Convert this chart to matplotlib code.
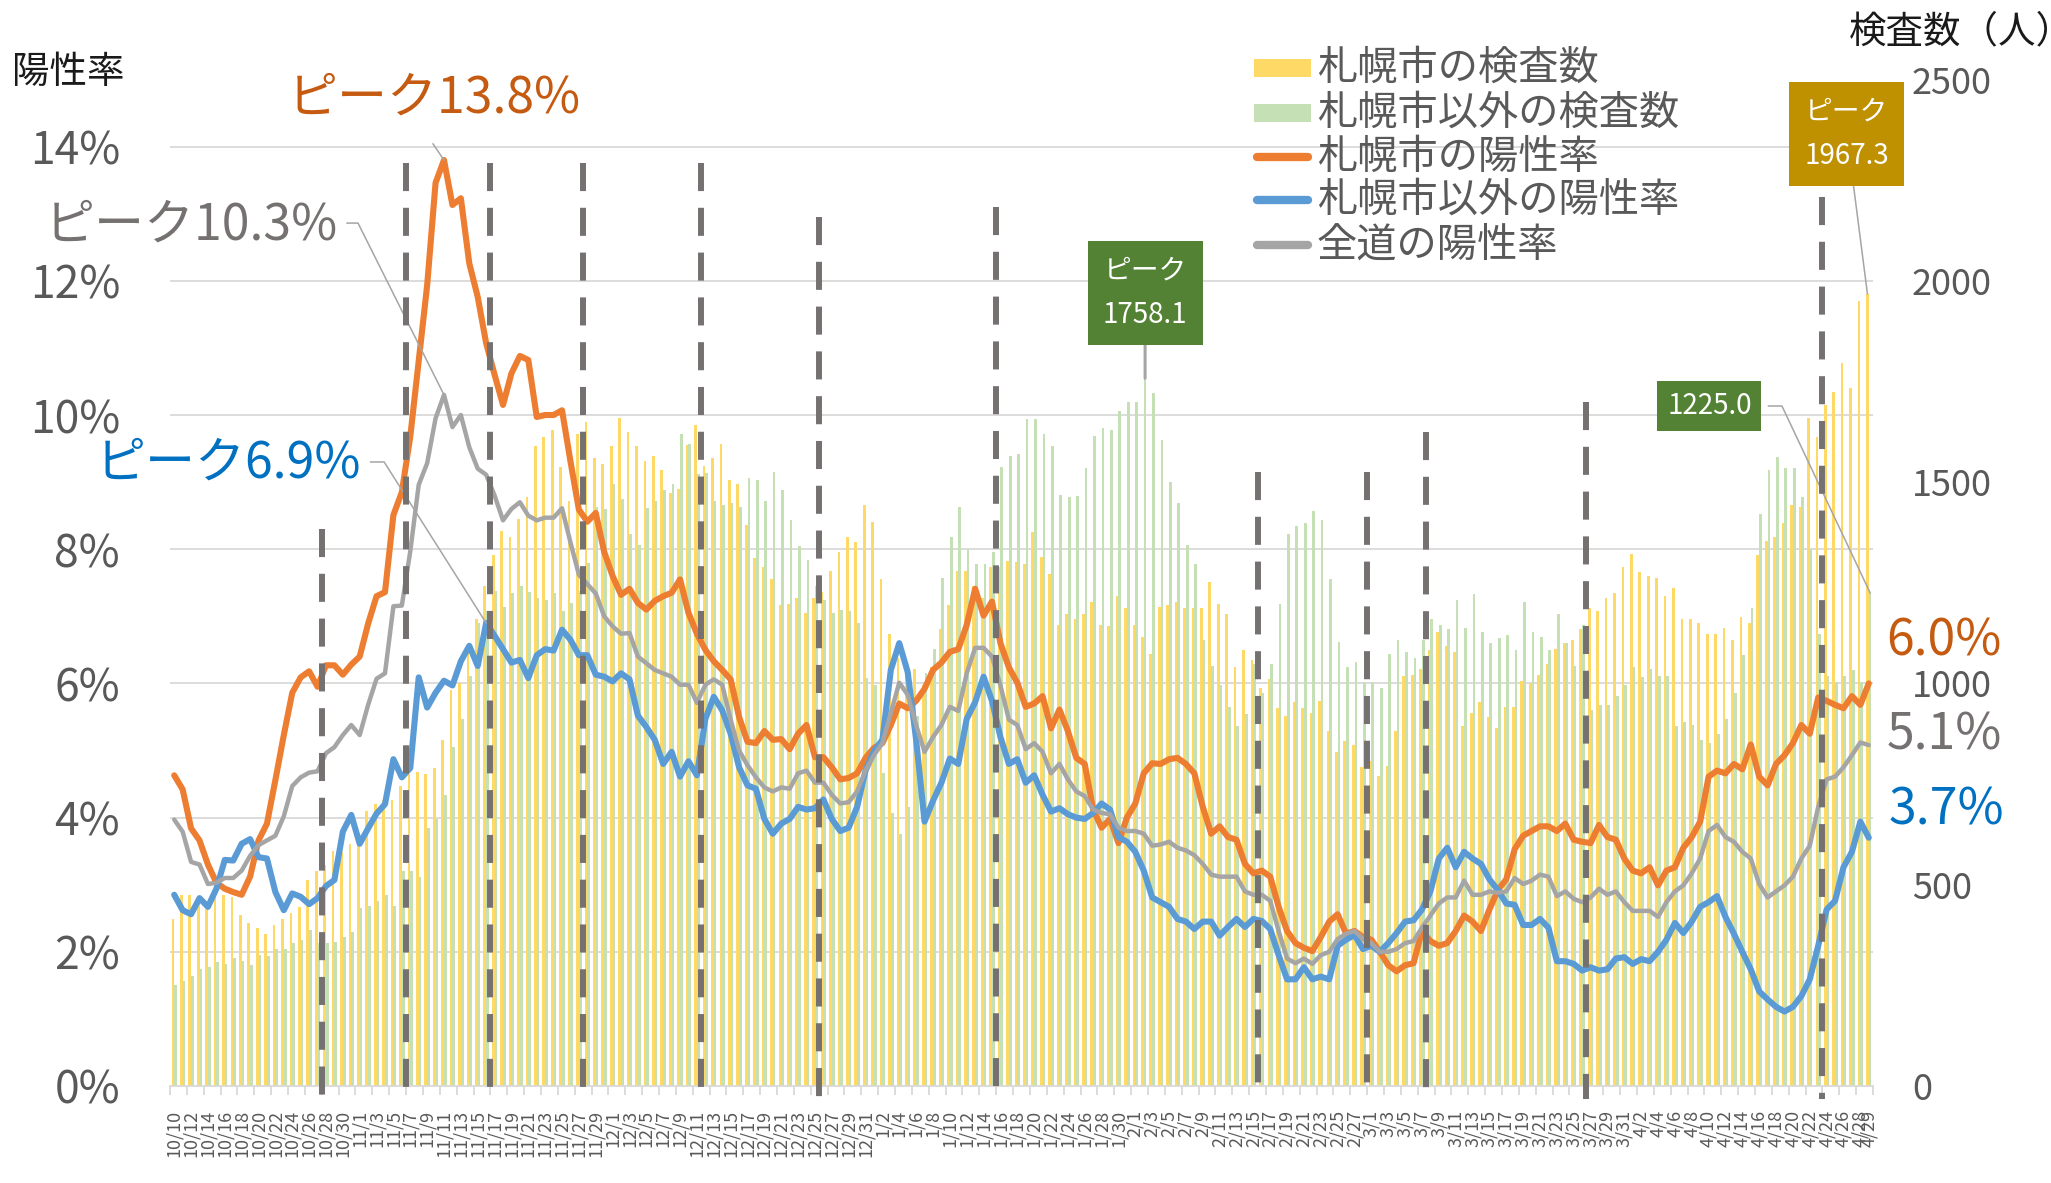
import numpy as np
import pandas as pd
import matplotlib
matplotlib.use('Agg')
from matplotlib import pyplot as plt
from matplotlib.patches import Rectangle
from matplotlib.lines import Line2D

plt.rcParams['font.family'] = ['Noto Sans CJK JP', 'DejaVu Sans']

dates = pd.date_range('2020-10-10', '2021-04-29', freq='D')
date_labels = ['{}/{}'.format(d.month, d.day) for d in dates]

# 札幌市の検査数
sapporo_tests = [
    415, 475, 475, 470, 440, 485, 475, 470, 425, 405, 392, 377, 400, 415, 430, 445, 512,
    535, 550, 583, 580, 602, 610, 682, 700, 710, 710, 745, 775, 779, 775, 789, 860, 984,
    1000, 1080, 1161, 1243, 1319, 1379, 1364, 1409, 1462, 1590, 1612, 1630, 1537, 1454,
    1620, 1650, 1560, 1545, 1590, 1660, 1624, 1590, 1552, 1564, 1530, 1474, 1484, 1593,
    1642, 1540, 1560, 1594, 1504, 1495,
    1394, 1311, 1289, 1259, 1194, 1198, 1213, 1176, 1213, 1228, 1278, 1326, 1364, 1352,
    1442, 1402, 1259, 1123, 1063, 1025, 1037, 995, 1040, 1134, 1194, 1278, 1278, 1243,
    1213, 1289, 1289, 1304, 1301, 1296,
    1376, 1314, 1271, 1146, 1173, 1161, 1173, 1201, 1146, 1143, 1218, 1188, 1146, 1115,
    1073, 1191, 1195, 1201, 1188, 1188, 1188, 1251, 1198, 1173, 1040, 1082, 1058, 988,
    1010, 938, 920, 953, 939,
    927, 957, 882, 829, 857, 848, 792, 807, 769, 796, 882, 1018, 1022, 1037, 1082, 1127,
    1093, 1078, 893, 927, 953, 917, 890, 942, 942, 1007, 1000, 1022, 1048, 1085, 1100,
    1108, 1134,
    1188, 1179, 1213, 1224, 1289, 1322, 1277, 1266, 1262, 1216, 1236, 1161, 1161, 1150,
    1123, 1123, 1138, 1108, 1164, 1150, 1319, 1353, 1364, 1399, 1442, 1439, 1660, 1612,
    1691, 1725, 1796, 1733, 1951, 1967.3]

# 札幌市以外の検査数
other_tests = [
    250, 261, 273, 291, 295, 307, 303, 318, 310, 300, 325, 322, 340, 340, 355, 363, 388,
    355, 355, 358, 370, 382, 442, 448, 460, 475, 448, 535, 535, 520, 640, 662, 722, 842,
    912, 1018, 1150, 1180, 1230, 1191, 1224, 1243, 1228, 1213, 1206, 1224, 1179, 1200,
    1230, 1300, 1439, 1432, 1496, 1459, 1371, 1344, 1435, 1454, 1480, 1495, 1620, 1594,
    1519, 1522, 1454, 1442, 1447, 1439,
    1510, 1504, 1454, 1525, 1481, 1405, 1341, 1307, 1243, 1206, 1176, 1183, 1179, 1150,
    1013, 995, 777, 679, 626, 694, 920, 1025, 1085, 1263, 1364, 1439, 1334, 1296, 1296,
    1326, 1537, 1564, 1570, 1657,
    1657, 1620, 1590, 1469, 1462, 1466, 1534, 1615, 1635, 1630, 1676, 1700, 1700, 1758.1,
    1721, 1605, 1500, 1447, 1344, 1296, 1108, 1043, 995, 942, 893, 923, 1048, 977, 1048,
    1198, 1371, 1391, 1399,
    1429, 1405, 1259, 1103, 1040, 1052, 1003, 1003, 988, 1073, 1108, 1078, 1063, 1108,
    1161, 1146, 1134, 1206, 1138, 1221, 1128, 1100, 1113, 1119, 1082, 1203, 1128, 1116,
    1082, 1173, 1100, 1043, 1146,
    935, 947, 947, 968, 995, 1040, 1015, 1037, 1018, 1018, 893, 905, 897, 860, 852, 875,
    912, 977, 1070, 1188, 1421, 1530, 1563, 1534, 1534, 1462, 1334, 1123, 1018, 1003,
    1018, 1033, 1003, 1225.0]

# 札幌市の陽性率 (%)
sapporo_rate = [
    4.63, 4.42, 3.84, 3.66, 3.30, 3.03, 2.94, 2.89, 2.85, 3.12, 3.66, 3.91, 4.56, 5.23,
    5.86, 6.09, 6.18, 5.95, 6.27, 6.27, 6.13, 6.28, 6.40, 6.89, 7.30, 7.36, 8.51, 8.85,
    9.68, 10.80, 11.93, 13.46, 13.80, 13.13,
    13.23, 12.26, 11.76, 11.07, 10.60, 10.15, 10.62, 10.88, 10.82, 9.97, 10.00, 10.00,
    10.07, 9.31, 8.59, 8.41, 8.54, 7.96, 7.60, 7.32, 7.41, 7.20, 7.10, 7.23, 7.30, 7.35,
    7.55, 7.05, 6.74, 6.50, 6.33, 6.20, 6.06, 5.50,
    5.13, 5.11, 5.29, 5.16, 5.17, 5.02, 5.25, 5.38, 4.90, 4.90, 4.75, 4.57, 4.59, 4.66,
    4.89, 5.04, 5.11, 5.38, 5.70, 5.63, 5.74, 5.92, 6.20, 6.31, 6.47, 6.51, 6.87, 7.41,
    7.01, 7.22, 6.60, 6.24, 6.01, 5.65,
    5.70, 5.81, 5.33, 5.61, 5.29, 4.89, 4.80, 4.12, 3.85, 3.98, 3.62, 4.00, 4.21, 4.66,
    4.81, 4.80, 4.87, 4.89, 4.80, 4.66, 4.16, 3.76, 3.87, 3.71, 3.67, 3.31, 3.17, 3.21,
    3.12, 2.67, 2.31, 2.13, 2.06,
    2.01, 2.22, 2.45, 2.56, 2.27, 2.31, 2.22, 2.18, 2.00, 1.80, 1.71, 1.80, 1.83, 2.31,
    2.16, 2.09, 2.13, 2.31, 2.54, 2.45, 2.31, 2.63, 2.92, 3.08, 3.53, 3.73, 3.80, 3.87,
    3.87, 3.80, 3.91, 3.67, 3.64,
    3.62, 3.89, 3.71, 3.67, 3.39, 3.21, 3.17, 3.26, 2.99, 3.21, 3.26, 3.55, 3.71, 3.94,
    4.61, 4.70, 4.66, 4.80, 4.72, 5.09, 4.61, 4.48, 4.80, 4.93, 5.11, 5.38, 5.25, 5.79,
    5.74, 5.68, 5.63, 5.81, 5.68, 6.00]

# 札幌市以外の陽性率 (%)
other_rate = [
    2.85, 2.62, 2.56, 2.80, 2.67, 2.94, 3.37, 3.36, 3.61, 3.68, 3.41, 3.39, 2.89, 2.62,
    2.87, 2.82, 2.71, 2.80, 2.98, 3.07, 3.79, 4.04, 3.61, 3.84, 4.06, 4.20, 4.87, 4.60,
    4.74, 6.09, 5.64, 5.86, 6.04, 5.97,
    6.33, 6.56, 6.26, 6.90, 6.71, 6.51, 6.31, 6.35, 6.08, 6.42, 6.51, 6.49, 6.80, 6.65,
    6.42, 6.42, 6.13, 6.10, 6.03, 6.15, 6.06, 5.52, 5.35, 5.16, 4.80, 4.98, 4.61, 4.84,
    4.63, 5.47, 5.80, 5.60, 5.25, 4.75,
    4.48, 4.43, 3.98, 3.76, 3.91, 3.98, 4.16, 4.12, 4.14, 4.27, 3.98, 3.80, 3.85, 4.16,
    4.70, 4.99, 5.16, 6.20, 6.60, 6.17, 5.16, 3.94, 4.25, 4.52, 4.88, 4.80, 5.47, 5.72,
    6.10, 5.74, 5.20, 4.80, 4.87, 4.52,
    4.63, 4.34, 4.09, 4.14, 4.05, 4.00, 3.98, 4.07, 4.21, 4.12, 3.71, 3.64, 3.49, 3.21,
    2.81, 2.74, 2.67, 2.49, 2.45, 2.34, 2.45, 2.45, 2.24, 2.37, 2.49, 2.37, 2.49, 2.46,
    2.34, 1.95, 1.59, 1.59, 1.77,
    1.59, 1.63, 1.59, 2.09, 2.18, 2.25, 2.04, 2.09, 2.00, 2.13, 2.28, 2.45, 2.47, 2.63,
    2.90, 3.39, 3.55, 3.26, 3.49, 3.39, 3.31, 3.08, 2.92, 2.72, 2.70, 2.40, 2.40, 2.49,
    2.36, 1.86, 1.86, 1.82, 1.72,
    1.77, 1.72, 1.74, 1.90, 1.92, 1.82, 1.89, 1.86, 2.00, 2.18, 2.43, 2.28, 2.45, 2.67,
    2.74, 2.83, 2.52, 2.27, 2.00, 1.74, 1.41, 1.29, 1.18, 1.11, 1.18, 1.34, 1.59, 2.09,
    2.63, 2.76, 3.26, 3.49, 3.94, 3.70]

# 全道の陽性率 (%)
all_rate = [
    3.97, 3.79, 3.34, 3.30, 3.01, 3.03, 3.10, 3.10, 3.21, 3.43, 3.59, 3.66, 3.73, 4.02,
    4.47, 4.60, 4.67, 4.69, 4.96, 5.05, 5.23, 5.38, 5.23, 5.68, 6.07, 6.15, 7.15, 7.16,
    7.97, 8.96, 9.28, 9.95, 10.30, 9.82,
    10.00, 9.52, 9.20, 9.11, 8.80, 8.43, 8.60, 8.70, 8.50, 8.43, 8.47, 8.47, 8.61, 8.10,
    7.62, 7.48, 7.34, 7.00, 6.85, 6.74, 6.75, 6.40, 6.30, 6.20, 6.15, 6.10, 5.98, 5.98,
    5.71, 5.98, 6.06, 5.98, 5.46, 5.00,
    4.78, 4.60, 4.45, 4.39, 4.45, 4.43, 4.66, 4.70, 4.52, 4.52, 4.34, 4.21, 4.23, 4.39,
    4.70, 4.93, 5.11, 5.56, 6.01, 5.83, 5.38, 4.98, 5.20, 5.38, 5.65, 5.59, 6.15, 6.53,
    6.53, 6.40, 5.97, 5.46, 5.38, 5.02,
    5.11, 4.98, 4.66, 4.80, 4.57, 4.39, 4.32, 4.12, 4.07, 4.05, 3.85, 3.80, 3.80, 3.76,
    3.58, 3.60, 3.64, 3.55, 3.51, 3.44, 3.31, 3.15, 3.12, 3.12, 3.12, 2.90, 2.85, 2.85,
    2.76, 2.31, 1.90, 1.83, 1.90,
    1.82, 1.95, 2.00, 2.19, 2.27, 2.31, 2.19, 2.13, 2.00, 2.00, 2.04, 2.13, 2.16, 2.36,
    2.54, 2.72, 2.81, 2.81, 3.06, 2.85, 2.85, 2.90, 2.88, 2.90, 3.10, 3.01, 3.06, 3.15,
    3.12, 2.83, 2.90, 2.79, 2.74,
    2.81, 2.94, 2.85, 2.90, 2.74, 2.61, 2.61, 2.61, 2.52, 2.74, 2.90, 2.99, 3.17, 3.39,
    3.80, 3.89, 3.71, 3.64, 3.49, 3.39, 3.01, 2.81, 2.90, 2.99, 3.12, 3.39, 3.58, 4.16,
    4.57, 4.61, 4.75, 4.93, 5.12, 5.08]

# dashed marker lines: drawn after these day indices, up to these heights (%)
event_days = [17, 27, 37, 48, 62, 76, 97, 128, 141, 148, 167, 195]
event_tops = [8.3, 13.75, 13.75, 13.75, 13.75, 12.95, 13.1, 9.15, 9.15, 9.75, 10.2, 13.25]

legend_labels = ['札幌市の検査数', '札幌市以外の検査数', '札幌市の陽性率',
                 '札幌市以外の陽性率', '全道の陽性率']

YELLOW = '#FFD966'
GREEN = '#C5E0B4'
ORANGE = '#ED7D31'
BLUE = '#5B9BD5'
GRAY = '#A5A5A5'
DASH = '#767171'
GRID = '#D9D9D9'
TICK = '#595959'
ORANGE_TXT = '#C55A11'
BLUE_TXT = '#0070C0'
GRAY_TXT = '#767171'
BOX_GREEN = '#548235'
BOX_GOLD = '#BF9000'

W, H = 2051, 1183
PCT_MAX, CNT_MAX = 15, 2500


def fx(px):
    return px / W


def fy(py):
    return 1 - py / H


fig = plt.figure(figsize=(W / 100, H / 100), dpi=100)
ax = fig.add_axes([fx(170), fy(1086), (1873 - 170) / W, (1086 - 79.5) / H])
ax2 = ax.twinx()
ax.set_zorder(ax2.get_zorder() + 1)
ax.patch.set_visible(False)

x = np.arange(len(dates))
bw = 0.32

# bars on the right axis
ax2.bar(x - bw / 2, sapporo_tests, bw, color=YELLOW, linewidth=0, zorder=2)
ax2.bar(x + bw / 2, other_tests, bw, color=GREEN, linewidth=0, zorder=2)
ax2.set_ylim(0, CNT_MAX)
ax2.set_yticks(range(0, CNT_MAX + 1, 500))
ax2.tick_params(axis='y', length=0, pad=28, labelsize=26, labelcolor=TICK)

pct_ticks = list(range(0, 15, 2))
for p in pct_ticks[1:]:
    ax2.axhline(p / PCT_MAX * CNT_MAX, color=GRID, lw=1.3, zorder=0)

# lines on the left axis
ax.plot(x, sapporo_rate, color=ORANGE, lw=4.4, solid_joinstyle='round',
        solid_capstyle='round', zorder=3)
ax.plot(x, other_rate, color=BLUE, lw=4.4, solid_joinstyle='round',
        solid_capstyle='round', zorder=3)
ax.plot(x, all_rate, color=GRAY, lw=3.2, solid_joinstyle='round',
        solid_capstyle='round', zorder=3)
ax.set_ylim(0, PCT_MAX)
ax.set_xlim(-0.5, len(dates) - 0.5)
ax.set_yticks(pct_ticks)
ax.set_yticklabels(['{}%'.format(p) for p in pct_ticks])
ax.tick_params(axis='y', length=0, pad=36, labelsize=32, labelcolor=TICK)

label_pos = list(range(0, len(dates), 2)) + [len(dates) - 1]
ax.set_xticks(label_pos)
ax.set_xticklabels([date_labels[i] for i in label_pos], rotation=90)
ax.set_xticks(np.arange(-0.5, len(dates), 2), minor=True)
ax.tick_params(axis='x', which='major', length=0, pad=17, labelsize=13,
               labelcolor=TICK)
ax.tick_params(axis='x', which='minor', length=6.5, width=1.3, color=GRID)

for a in (ax, ax2):
    for s in a.spines.values():
        s.set_visible(False)
ax.spines['bottom'].set_visible(True)
ax.spines['bottom'].set_color(GRID)
ax.spines['bottom'].set_linewidth(1.3)

# dashed event lines
for d, top in zip(event_days, event_tops):
    ax.plot([d + 0.5, d + 0.5], [top, -0.2], color=DASH, lw=4.3,
            dashes=(4.7, 2.8), dash_capstyle='butt', clip_on=False, zorder=5)

# peak labels for rates
LEAD = '#A5A5A5'
io = int(np.argmax(sapporo_rate))
ax.text(30.8, 14.72, 'ピーク{:.1f}%'.format(sapporo_rate[io]), ha='center',
        va='center', fontsize=36, color=ORANGE_TXT)
ax.plot([30.7, io], [14.04, sapporo_rate[io]], color=LEAD, lw=1.1, zorder=4,
        clip_on=False)

ia = int(np.argmax(all_rate))
ax.text(19.4, 12.83, 'ピーク{:.1f}%'.format(all_rate[ia]), ha='right',
        va='center', fontsize=36, color=GRAY_TXT)
ax.plot([20.5, 21.8, ia], [12.86, 12.86, all_rate[ia]], color=LEAD, lw=1.1,
        zorder=4)

ib = int(np.argmax(other_rate))
ax.text(22.2, 9.27, 'ピーク{:.1f}%'.format(other_rate[ib]), ha='right',
        va='center', fontsize=36, color=BLUE_TXT)
ax.plot([23.3, 24.9, ib], [9.3, 9.3, other_rate[ib]], color=LEAD, lw=1.1,
        zorder=4)

# latest values
last = len(dates) - 1
ax.text(203.1, 6.63, '{:.1f}%'.format(sapporo_rate[last]), ha='left',
        va='center', fontsize=36, color=ORANGE_TXT, clip_on=False)
ax.text(203.1, 5.23, '{:.1f}%'.format(all_rate[last]), ha='left',
        va='center', fontsize=36, color=GRAY_TXT, clip_on=False)
ax.text(203.4, 4.10, '{:.1f}%'.format(other_rate[last]), ha='left',
        va='center', fontsize=36, color=BLUE_TXT, clip_on=False)

# peak labels for test counts
ig = int(np.argmax(other_tests))
ax2.annotate('ピーク\n{:.1f}'.format(other_tests[ig]),
             xy=(ig + bw / 2, other_tests[ig]), xytext=(ig + bw / 2, 1970),
             ha='center', va='center', color='white', fontsize=20,
             linespacing=1.6,
             bbox=dict(boxstyle='square,pad=0.55', fc=BOX_GREEN, ec='none'),
             arrowprops=dict(arrowstyle='-', color=LEAD, lw=2.2,
                             shrinkA=0, shrinkB=0))

ax2.text(182.1, 1689, '{:.1f}'.format(other_tests[last]), ha='center',
         va='center', color='white', fontsize=20,
         bbox=dict(boxstyle='square,pad=0.35', fc=BOX_GREEN, ec='none'))
ax2.plot([189.1, 190.7, last + bw / 2], [1689, 1689, other_tests[last]],
         color=LEAD, lw=1.1, zorder=4, clip_on=False)

ax2.annotate('ピーク\n{:.1f}'.format(sapporo_tests[last]),
             xy=(last - bw / 2, sapporo_tests[last]), xytext=(198.4, 2365),
             ha='center', va='center', color='white', fontsize=20,
             linespacing=1.6, annotation_clip=False,
             bbox=dict(boxstyle='square,pad=0.55', fc=BOX_GOLD, ec='none'),
             arrowprops=dict(arrowstyle='-', color=LEAD, lw=1.1,
                             shrinkA=0, shrinkB=0))

# axis titles
fig.text(fx(68), fy(72), '陽性率', ha='center', va='center', fontsize=27,
         color='#1a1a1a')
fig.text(fx(1849), fy(32), '検査数（人）', ha='left', va='center', fontsize=27,
         color='#1a1a1a')

# legend
rows = [68, 113, 157, 200, 245]
handles = [('bar', YELLOW), ('bar', GREEN), ('line', ORANGE), ('line', BLUE),
           ('line', GRAY)]
for (kind, col), lab, ry in zip(handles, legend_labels, rows):
    if kind == 'bar':
        fig.add_artist(Rectangle((fx(1254), fy(ry + 8.5)), 57 / W, 17 / H,
                                 transform=fig.transFigure, color=col, lw=0))
    else:
        fig.add_artist(Line2D([fx(1257), fx(1308)], [fy(ry), fy(ry)], lw=6,
                              color=col, solid_capstyle='round',
                              transform=fig.transFigure))
    fig.text(fx(1317), fy(ry), lab, ha='left', va='center', fontsize=29,
             color=TICK)

fig.savefig('out.png', dpi=100, facecolor='white')
